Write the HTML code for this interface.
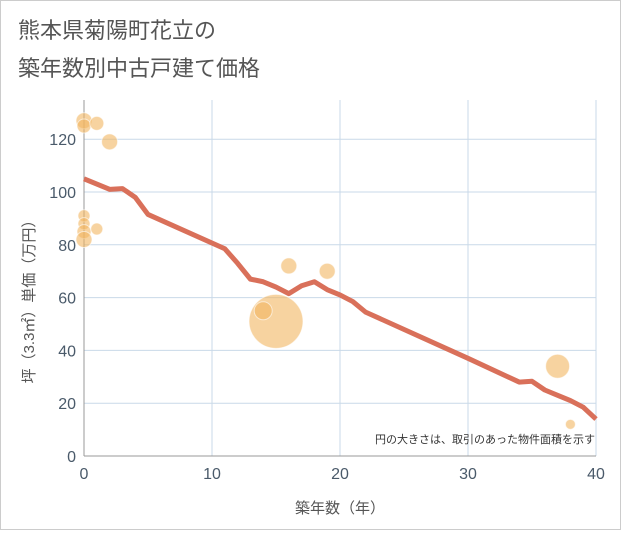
<!DOCTYPE html>
<html><head><meta charset="utf-8"><style>
body{margin:0;background:#fff}
svg text{font-family:"Liberation Sans","Noto Sans CJK JP",sans-serif}
</style></head><body>
<svg width="621" height="530" xmlns="http://www.w3.org/2000/svg">
<rect x="0.5" y="0.5" width="620" height="529" fill="#fff" stroke="#ccc"/>
<text x="18" y="38" font-size="22" fill="#555">熊本県菊陽町花立の</text>
<text x="18" y="76" font-size="22" fill="#555">築年数別中古戸建て価格</text>
<g id="grid"></g>
<g id="marks"></g>
<text x="595" y="443" font-size="11" fill="#333" text-anchor="end">円の大きさは、取引のあった物件面積を示す</text>
<text x="340" y="513" font-size="15" fill="#555" text-anchor="middle">築年数（年）</text>
<text transform="translate(34,298) rotate(-90)" font-size="15" fill="#555" text-anchor="middle">坪（3.3㎡）単価（万円）</text>
</svg>
<script>
const xTicks=[0,10,20,30,40];
const yTicks=[0,20,40,60,80,100,120];
const lineX=[0,2,3,4,5,11,12,13,14,15,16,17,18,19,20,21,22,30,34,35,36,37,38,39,40];
const lineY=[105,101,101.3,98,91.5,78.5,73,67,66,64,61.5,64.5,66,63,61,58.5,54.5,37,28,28.3,25,23,21,18.5,14];
const bubX=[0,0,1,2,0,0,0,0,1,16,19,15,14,37,38];
const bubY=[127,125,126,119,91,88,85,82,86,72,70,51,55,34,12];
const bubR=[8,7,7,8,6,6,7,8,6,8,8,27,9,12,5];
const NS="http://www.w3.org/2000/svg";
const sx=v=>84+v*12.8, sy=v=>456-v*2.64;
const grid=document.getElementById('grid'), marks=document.getElementById('marks');
function mk(p,tag,a){const e=document.createElementNS(NS,tag);for(const k in a)e.setAttribute(k,a[k]);p.appendChild(e);return e;}
xTicks.forEach(t=>{
 const l=mk(grid,'line',{x1:sx(t),x2:sx(t),y1:100,y2:456,stroke:'#c9d9e8'});
 
 
 const tx=mk(grid,'text',{x:sx(t),y:479,'font-size':16,fill:'#4a5a6a','text-anchor':'middle'});tx.textContent=t;
 
 
});
yTicks.forEach(t=>{
 const l=mk(grid,'line',{x1:84,x2:596,y1:sy(t),y2:sy(t),stroke:'#c9d9e8'});
 
 
 const tx=mk(grid,'text',{x:76,y:sy(t)+6,'font-size':16,fill:'#4a5a6a','text-anchor':'end'});tx.textContent=t;
 
 
});
const ax=mk(grid,'line',{x1:84,x2:84,y1:100,y2:456,stroke:'#999'});


const ax2=mk(grid,'line',{x1:84,x2:596,y1:456,y2:456,stroke:'#999'});


bubX.forEach((x,i)=>{
 const c=mk(marks,'circle',{cx:sx(x),cy:sy(bubY[i]),r:bubR[i],fill:'#f2b661','fill-opacity':0.6,stroke:'#fff','stroke-opacity':0.6});
 
 
});
const p=mk(marks,'polyline',{points:lineX.map((x,i)=>sx(x)+','+sy(lineY[i])).join(' '),fill:'none',stroke:'#d9705a','stroke-width':5,'stroke-linejoin':'round'});


</script>
</body></html>
